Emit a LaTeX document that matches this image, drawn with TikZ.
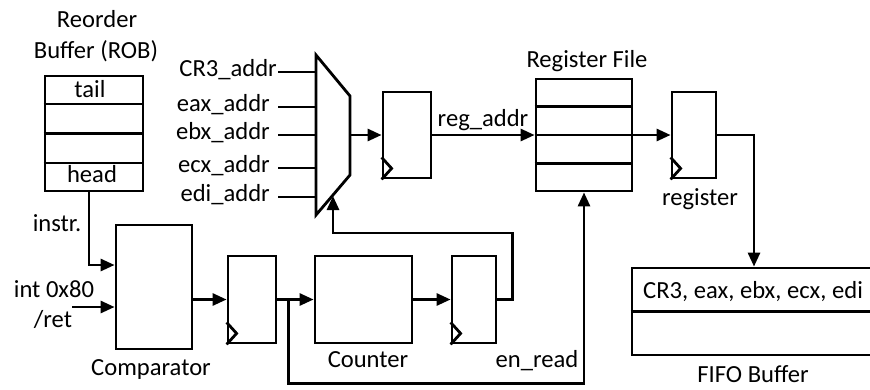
\documentclass[tikz,border=0pt]{standalone}
\usepackage{fontspec}
\setmainfont{Carlito}
\usetikzlibrary{arrows.meta,calc}
\begin{document}
\begin{tikzpicture}[x=1pt,y=-1pt,
  wire/.style={line width=2.8pt},
  box/.style={draw,line width=2.8pt,inner sep=0pt,rectangle},
  arr/.style={wire,-{Triangle[length=14pt,width=12pt]}},
  lbl/.style={inner sep=0pt,font=\fontsize{24.6}{30}\selectfont}]
\useasboundingbox (0,0) rectangle (870,389);

% storage blocks and registers
\node[box,minimum width=98pt,minimum height=115pt] (rob) at (94,133.5) {};
\node[box,minimum width=76pt,minimum height=124pt] (cmp) at (154,287) {};
\node[box,minimum width=48pt,minimum height=87pt] (ff1) at (252,299.5) {};
\node[box,minimum width=97pt,minimum height=87pt] (cnt) at (363.5,299.5) {};
\node[box,minimum width=44pt,minimum height=87pt] (ff2) at (474,299.5) {};
\node[box,minimum width=48pt,minimum height=86pt] (ffa) at (407,135) {};
\node[box,minimum width=96pt,minimum height=112pt] (rf) at (584,135) {};
\node[box,minimum width=44pt,minimum height=86pt] (ffr) at (694,135) {};
\node[box,minimum width=244pt,minimum height=87pt] (fifo) at (754,311.5) {};

% row dividers
\foreach \f in {0.25,0.5,0.75} {
  \draw[wire] ($(rob.north west)!\f!(rob.south west)$) -- ($(rob.north east)!\f!(rob.south east)$);
  \draw[wire] ($(rf.north west)!\f!(rf.south west)$) -- ($(rf.north east)!\f!(rf.south east)$);
}
\draw[wire] (fifo.west) -- (fifo.east);

% clock inputs of the flip-flops
\foreach \n in {ffa,ffr,ff1,ff2}
  \draw[wire,line join=miter] ([yshift=22pt]\n.south west) -- ++(10pt,-11pt) -- (\n.south west);

% multiplexer
\draw[wire,line join=miter] (316,55) -- (350,96) -- (350,175) -- (316,215) -- cycle;
\coordinate (muxout) at (350,135);
\coordinate (muxsel) at (333,196);
\foreach \y/\t/\e [count=\i] in {72/CR3\_addr/277, 107/eax\_addr/270, 135/ebx\_addr/270, 168/ecx\_addr/270, 197/edi\_addr/270} {
  \coordinate (mi\i) at (316,\y);
  \node[lbl,anchor=base east] (in\i) at (\e,\y+4) {\t};
  \draw[wire] (278,\y) -- (mi\i);
}

% comparator inputs
\coordinate (cmpin1) at ([yshift=22pt]cmp.west);
\coordinate (cmpin2) at ([yshift=-20pt]cmp.west);
\coordinate (intsrc) at (72,307);
\draw[arr] ([xshift=-5pt]rob.south) |- (cmpin1);
\draw[arr] (intsrc) -- (cmpin2);

% data path
\draw[arr] (cmp.east |- ff1.west) -- (ff1.west);
\draw[arr] (ff1.east) -- (cnt.west);
\coordinate (br) at ([xshift=11pt]ff1.east);
\draw[arr] (br) -- ++(0,84) -| (rf.south);
\draw[arr] (cnt.east) -- (ff2.west);
\draw[arr] (ff2.east) -- ++(15,0) -- ++(0,-66.5) -| (muxsel);
\draw[arr] (muxout) -- (ffa.west);
\draw[arr] (ffa.east) -- (rf.west);
\draw[arr] (rf.east) -- (ffr.west);
\draw[arr] (ffr.east) -| (fifo.north);

% labels
\node[lbl,anchor=base] at (97,27) {Reorder};
\node[lbl,anchor=base] at (96,58) {Buffer (ROB)};
\node[lbl,anchor=base] at (90,97) {tail};
\node[lbl,anchor=base] at (92,182) {head};
\node[lbl,anchor=base] at (57,231) {instr.};
\node[lbl,anchor=base] at (54,297) {int 0x80};
\node[lbl,anchor=base] at (53,327) {/ret};
\node[lbl,anchor=base] at (151,375) {Comparator};
\node[lbl,anchor=base] at (368,367) {Counter};
\node[lbl,anchor=base] at (537,367) {en\_read};
\node[lbl,anchor=base] at (483,126) {reg\_addr};
\node[lbl,anchor=base] at (587,67) {Register File};
\node[lbl,anchor=base] at (700,205) {register};
\node[lbl,anchor=base west] at (643,298) {CR3, eax, ebx, ecx, edi};
\node[lbl,anchor=base] at (753,382) {FIFO Buffer};
\end{tikzpicture}
\end{document}
